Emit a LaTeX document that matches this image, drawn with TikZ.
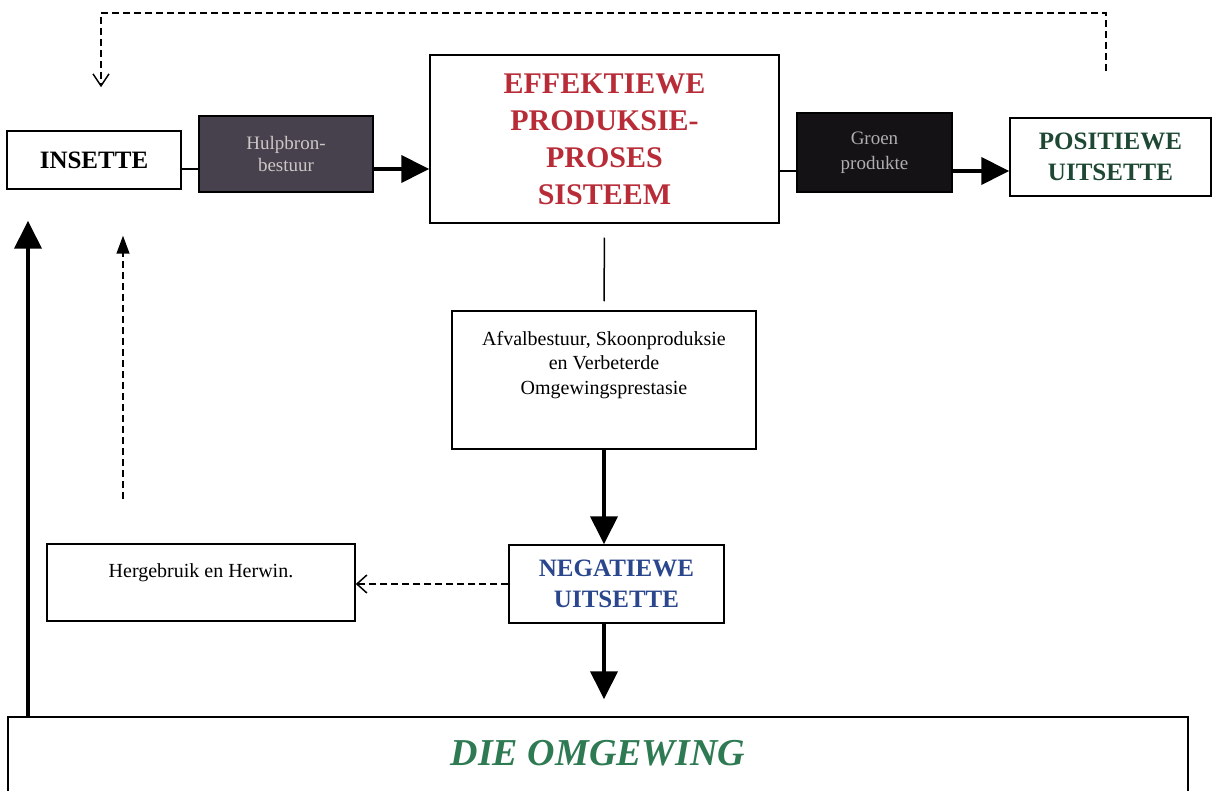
\documentclass[tikz,border=0pt]{standalone}
\usepackage{fontspec}
\setmainfont{Liberation Serif}
\usetikzlibrary{arrows.meta}
\definecolor{effred}{RGB}{184,44,56}
\definecolor{posgreen}{RGB}{30,72,52}
\definecolor{negblue}{RGB}{42,70,140}
\definecolor{omggreen}{RGB}{46,122,82}
\definecolor{hulpgray}{RGB}{70,65,76}
\definecolor{hulptext}{RGB}{205,198,198}
\definecolor{groenblack}{RGB}{20,18,20}
\definecolor{groentext}{RGB}{175,175,175}

\begin{document}
\begin{tikzpicture}[x=1pt, y=-1pt,
    bigarrow/.style={line width=4pt, -{Triangle[length=28pt,width=27pt]}},
    dasharrow/.style={line width=1.5pt, dash pattern=on 7pt off 4pt},
    thinline/.style={line width=1.5pt}]
    \useasboundingbox (0,0) rectangle (1213,791);

    \begin{scope}[every node/.style={draw, line width=1.5pt, rectangle, inner sep=2pt, align=center}]
        \node[minimum width=174, minimum height=58, font=\fontsize{25}{31}\selectfont\bfseries] (insette) at (94,160) {INSETTE};
        \node[minimum width=174, minimum height=76, fill=hulpgray, text=hulptext, font=\fontsize{19}{22}\selectfont] (hulp) at (286,154) {Hulpbron-\\bestuur};
        \node[minimum width=349, minimum height=168, text=effred, font=\fontsize{30}{37}\selectfont\bfseries] (effek) at (604.5,139) {EFFEKTIEWE\\PRODUKSIE-\\PROSES\\SISTEEM};
        \node[minimum width=155, minimum height=79, fill=groenblack, text=groentext, font=\fontsize{19}{25}\selectfont] (groen) at (874.5,152.5) {Groen\\produkte};
        \node[minimum width=201, minimum height=78, text=posgreen, font=\fontsize{25}{31}\selectfont\bfseries] (posit) at (1110.5,157) {POSITIEWE\\UITSETTE};
        \node[minimum width=304, minimum height=138,
            label={[draw=none, anchor=north, yshift=-18pt, align=center, font=\fontsize{20}{24.5}\selectfont]north:{Afvalbestuur, Skoonproduksie\\en Verbeterde\\Omgewingsprestasie}}] (afval) at (604,380) {};
        \node[minimum width=215, minimum height=78, text=negblue, font=\fontsize{25}{31}\selectfont\bfseries] (negat) at (616.5,584) {NEGATIEWE\\UITSETTE};
        \node[minimum width=308, minimum height=77,
            label={[draw=none, anchor=north, yshift=-18pt, font=\fontsize{20}{24}\selectfont]north:Hergebruik en Herwin.}] (herwin) at (201,582.5) {};
        \node[minimum width=1180, minimum height=113,
            label={[draw=none, anchor=north, yshift=-21pt, text=omggreen, font=\fontsize{38}{44}\selectfont\bfseries\itshape]north:DIE OMGEWING}] (omgew) at (598,773.5) {};
    \end{scope}

    \coordinate (r1) at (0,169);
    \coordinate (r2) at (0,171);
    \coordinate (lx) at (28,0);
    \coordinate (rx) at (123,0);
    \coordinate (fbL) at (101,13);
    \coordinate (fbR) at (1106,13);

    \draw[thinline] (insette.east |- r1) -- (hulp.west |- r1);
    \draw[bigarrow] (hulp.east |- r1) -- (effek.west |- r1);
    \draw[thinline] (effek.east |- r2) -- (groen.west |- r2);
    \draw[bigarrow] (groen.east |- r2) -- (posit.west |- r2);
    \draw[thinline, shorten <=14pt, shorten >=9pt] (effek.south) -- (afval.north);
    \draw[bigarrow] (afval.south) -- (afval.south |- negat.north);
    \draw[bigarrow, shorten >=17pt] (afval.south |- negat.south) -- (afval.south |- omgew.north);
    \draw[dasharrow, -{Straight Barb[length=10pt,width=18pt]}] (negat.west) -- (negat.west -| herwin.east);
    \draw[bigarrow, shorten >=31pt] (lx |- omgew.north) -- (lx |- insette.south);
    \draw[dasharrow, -{Triangle[length=18pt,width=13pt]}, shorten <=44pt, shorten >=46pt] (rx |- herwin.north) -- (rx |- insette.south);
    \draw[dasharrow, -{Straight Barb[length=12pt,width=16pt]}, shorten <=46pt, shorten >=43pt] (fbR |- posit.north) -- (fbR) -- (fbL) -- (fbL |- insette.north);
\end{tikzpicture}
\end{document}
